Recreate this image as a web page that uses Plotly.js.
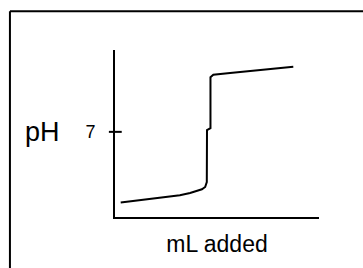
<!DOCTYPE html>
<html><head><meta charset="utf-8">
<script src="https://cdn.plot.ly/plotly-3.0.1.min.js"></script>
<style>html,body{margin:0;padding:0;background:#fff}</style>
</head><body><div id="chart" style="width:363px;height:268px"></div>
<script>
// Titration curve (schematic): mL of base added vs pH
const mlAdded = [1.4, 3.7, 7.8, 12.3, 15.9, 18.4, 20.0, 21.3, 22.1, 22.5, 22.55, 23.4, 23.4, 24.1, 28.2, 32.3, 36.8, 40.4, 43.7];
const pHValues = [1.19, 1.29, 1.48, 1.65, 1.79, 1.98, 2.14, 2.28, 2.47, 2.88, 7.14, 7.3, 11.5, 11.7, 11.84, 11.98, 12.12, 12.22, 12.36];
const yTickVals = [7];
const yTickText = ['7'];
const xLabel = 'mL added';
const yLabel = 'pH';

const font = 'Liberation Sans, Arial, sans-serif';
Plotly.newPlot('chart', [{
  x: mlAdded, y: pHValues, type: 'scatter', mode: 'lines',
  line: {color: '#000', width: 2}, hoverinfo: 'none'
}], {
  width: 363, height: 268,
  margin: {l: 115, r: 44, t: 50, b: 51},
  paper_bgcolor: '#fff', plot_bgcolor: '#fff',
  showlegend: false,
  xaxis: {range: [0, 50], showline: true, linecolor: '#000', linewidth: 2,
    showgrid: false, zeroline: false, showticklabels: false, ticks: '',
    title: {text: xLabel, font: {family: font, size: 23, color: '#000'}, standoff: 18}},
  yaxis: {range: [0, 13.73], showline: true, linecolor: '#000', linewidth: 2,
    showgrid: false, zeroline: false, tickmode: 'array', tickvals: yTickVals, ticktext: yTickText,
    ticks: '', ticklabelstandoff: 14, tickfont: {family: font, size: 18, color: '#000'}},
  shapes: [
    {type: 'line', xref: 'paper', yref: 'y', x0: -0.03, x1: 0.033, y0: 7, y1: 7, line: {color: '#000', width: 2}},
    {type: 'line', xref: 'paper', yref: 'paper', x0: -0.515, x1: -0.515, y0: -1, y1: 1.232, line: {color: '#000', width: 2}},
    {type: 'line', xref: 'paper', yref: 'paper', x0: -0.515, x1: 1.5, y0: 1.232, y1: 1.232, line: {color: '#000', width: 2}}
  ],
  annotations: [
    {text: yLabel, xref: 'paper', yref: 'y', x: -0.357, y: 7, showarrow: false,
      xanchor: 'center', yanchor: 'middle', font: {family: font, size: 27, color: '#000'}}
  ]
}, {staticPlot: true});
</script></body></html>
